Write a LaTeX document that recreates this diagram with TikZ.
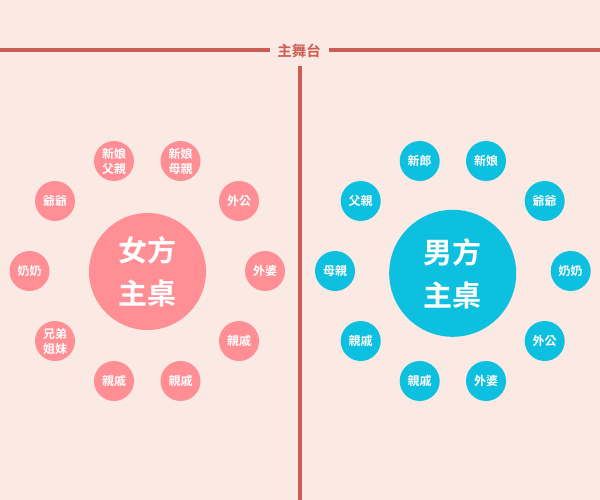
\documentclass[tikz,border=0pt]{standalone}
\usepackage{fontspec}
\setmainfont{Noto Sans CJK TC}
\newfontfamily\cjkb{Noto Sans CJK TC}[BoldFont=* Bold]
\definecolor{bg}{HTML}{FBE9E3}
\definecolor{stage}{HTML}{CD5C55}
\definecolor{pinkc}{HTML}{FF8E95}
\definecolor{cyanc}{HTML}{0EC0DF}
\tikzset{
  seat/.style={circle, inner sep=0pt, minimum size=40pt, text=white,
    font=\cjkb\bfseries\fontsize{12}{15}\selectfont, align=center},
  pseat/.style={seat, fill=pinkc},
  cseat/.style={seat, fill=cyanc},
  mainpink/.style={circle, inner sep=0pt, minimum size=117pt, fill=pinkc, text=white,
    font=\cjkb\bfseries\fontsize{29}{43}\selectfont, align=center},
  maincyan/.style={circle, inner sep=0pt, minimum size=127pt, fill=cyanc, text=white,
    font=\cjkb\bfseries\fontsize{29}{43}\selectfont, align=center},
  stageline/.style={draw=stage, line width=4.3pt},
}
\begin{document}
\begin{tikzpicture}[x=1pt,y=-1pt]
\useasboundingbox (0,0) rectangle (600,500);
\fill[bg] (0,0) rectangle (600,500);
% stage
\node[text=stage, font=\cjkb\bfseries\fontsize{14.5}{16}\selectfont, inner sep=0pt] (stg) at (299,51) {主舞台};
\coordinate (l0) at (0,50);
\coordinate (l1) at (270,50);
\coordinate (r0) at (329,50);
\coordinate (r1) at (600,50);
\draw[stageline] (l0) -- (l1);
\draw[stageline] (r0) -- (r1);
\coordinate (v0) at (300,66.5);
\coordinate (v1) at (300,500);
\draw[stageline] (v0) -- (v1);
% left (bride side)
\node[mainpink] (lmain) at (147.5,271.5) {女方\\主桌};
\node[pseat] (l1s) at (114,161) {新娘\\父親};
\node[pseat] (l2s) at (180.5,161) {新娘\\母親};
\node[pseat] (l3s) at (239,201) {外公};
\node[pseat] (l4s) at (265,271) {外婆};
\node[pseat] (l5s) at (239,341) {親戚};
\node[pseat] (l6s) at (180.5,381) {親戚};
\node[pseat] (l7s) at (114,381) {親戚};
\node[pseat] (l8s) at (55,341) {兄弟\\姐妹};
\node[pseat] (l9s) at (29.5,271) {奶奶};
\node[pseat] (l10s) at (55,201) {爺爺};
% right (groom side)
\node[maincyan] (rmain) at (452.7,273.3) {男方\\主桌};
\node[cseat] (r1s) at (419.7,161) {新郎};
\node[cseat] (r2s) at (486,161) {新娘};
\node[cseat] (r3s) at (544.7,201) {爺爺};
\node[cseat] (r4s) at (570.7,271) {奶奶};
\node[cseat] (r5s) at (544.7,341) {外公};
\node[cseat] (r6s) at (486,381) {外婆};
\node[cseat] (r7s) at (419.7,381) {親戚};
\node[cseat] (r8s) at (360.7,341) {親戚};
\node[cseat] (r9s) at (335,271) {母親};
\node[cseat] (r10s) at (360.7,201) {父親};
\end{tikzpicture}
\end{document}
